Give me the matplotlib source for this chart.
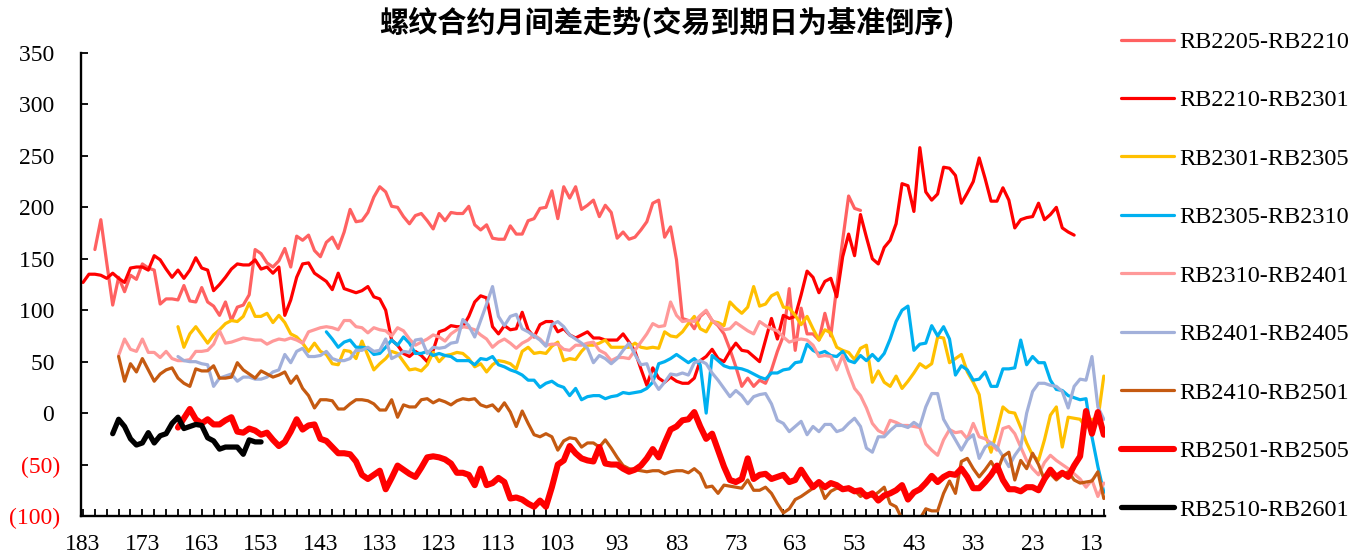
import matplotlib
matplotlib.use("Agg")
import matplotlib.pyplot as plt
import numpy as np

plt.rcParams['font.family'] = ['Liberation Serif', 'DejaVu Serif']

# Spread values by trading days left to expiry (first value = start day, one per day, counting down)
labels = ["RB2205-RB2210", "RB2210-RB2301", "RB2301-RB2305", "RB2305-RB2310",
          "RB2310-RB2401", "RB2401-RB2405", "RB2410-RB2501", "RB2501-RB2505",
          "RB2510-RB2601"]
start_days = [181, 183, 167, 142, 177, 167, 177, 167, 178]

rb2205_2210 = [
    159, 188, 146, 105, 132, 118, 134, 130, 145, 141,
    139, 106, 111, 111, 110, 124, 109, 108, 122, 108,
    104, 95, 108, 90, 103, 105, 115, 159, 155, 146,
    142, 148, 160, 142, 172, 168, 173, 158, 152, 166,
    171, 160, 176, 198, 186, 187, 195, 210, 220, 215,
    201, 200, 191, 184, 192, 194, 187, 179, 194, 187,
    195, 194, 194, 201, 183, 178, 183, 170, 169, 169,
    182, 174, 174, 187, 189, 199, 200, 216, 189, 220,
    209, 220, 198, 202, 207, 191, 202, 195, 170, 176,
    169, 171, 178, 186, 204, 207, 171, 181, 149, 92,
    90, 82, 94, 99, 90, 85, 77, 62, 45, 26,
    34, 26, 32, 29, 42, 60, 75, 121, 61, 102,
    77, 77, 71, 97, 75, 123, 168, 211, 199, 197]
rb2210_2301 = [
    127, 135, 135, 134, 131, 136, 131, 127, 141, 142,
    142, 139, 153, 149, 140, 132, 139, 131, 139, 151,
    141, 139, 119, 125, 132, 140, 145, 144, 144, 149,
    140, 142, 136, 142, 95, 110, 132, 145, 146, 136,
    132, 128, 120, 136, 121, 119, 117, 119, 123, 113,
    111, 100, 71, 66, 58, 55, 60, 56, 50, 61,
    79, 81, 85, 84, 84, 94, 108, 114, 112, 84,
    77, 85, 81, 82, 98, 81, 74, 86, 89, 89,
    79, 82, 76, 73, 76, 79, 73, 73, 71, 71,
    71, 77, 69, 60, 43, 27, 44, 34, 30, 35,
    31, 29, 29, 34, 51, 55, 62, 53, 50, 60,
    68, 61, 60, 55, 50, 71, 92, 72, 95, 92,
    94, 115, 138, 132, 117, 128, 131, 113, 152, 174,
    153, 193, 171, 150, 145, 161, 168, 184, 223, 221,
    196, 258, 215, 207, 213, 239, 238, 231, 204, 214,
    225, 248, 228, 206, 206, 219, 207, 180, 188, 190,
    191, 204, 188, 193, 200, 180, 176, 173]
rb2301_2305 = [
    84, 64, 77, 84, 76, 68, 76, 81, 87, 90,
    89, 94, 107, 94, 94, 97, 88, 95, 88, 77,
    74, 68, 60, 68, 60, 57, 48, 47, 61, 60,
    53, 70, 56, 42, 48, 53, 60, 58, 50, 42,
    43, 41, 47, 59, 50, 56, 57, 59, 58, 53,
    45, 48, 40, 47, 51, 50, 48, 43, 60, 64,
    58, 59, 58, 65, 69, 51, 53, 52, 60, 66,
    66, 68, 71, 64, 64, 64, 64, 68, 64, 63,
    64, 63, 79, 75, 74, 79, 87, 94, 82, 79,
    89, 88, 85, 108, 102, 97, 103, 123, 104, 106,
    114, 117, 103, 102, 95, 86, 94, 82, 71, 81,
    78, 64, 61, 59, 52, 63, 66, 30, 41, 30,
    26, 36, 24, 31, 39, 48, 44, 48, 74, 73,
    49, 53, 57, 40, 30, 18, -20, -38, -17, 6,
    1, 0, -14, -29, -41, -46, -26, -2, 6, -33,
    -4, -5, -6, -14, -6, -6, 36]
rb2305_2310 = [
    79, 72, 64, 69, 71, 64, 64, 63, 57, 58,
    64, 71, 66, 74, 68, 58, 58, 60, 56, 58,
    56, 55, 51, 51, 51, 47, 53, 52, 55, 47,
    45, 42, 40, 37, 32, 32, 25, 29, 31, 27,
    25, 17, 24, 13, 16, 17, 17, 14, 16, 17,
    20, 19, 20, 21, 24, 30, 48, 50, 53, 57,
    53, 49, 53, 47, 0, 56, 51, 46, 44, 44,
    43, 41, 38, 35, 33, 39, 39, 42, 43, 49,
    50, 67, 61, 58, 60, 56, 55, 60, 51, 49,
    56, 51, 57, 51, 58, 72, 89, 100, 104, 61,
    67, 68, 85, 75, 84, 72, 37, 46, 42, 32,
    33, 40, 26, 26, 43, 43, 44, 71, 47, 55,
    49, 49, 32, 23, 22, 17, 15, 13, 14, -23,
    -52, -77]
rb2310_2401 = [
    56, 72, 62, 60, 72, 59, 59, 54, 60, 53,
    51, 51, 52, 60, 60, 61, 67, 80, 68, 69,
    71, 73, 72, 71, 71, 67, 70, 72, 71, 73,
    71, 68, 79, 81, 83, 84, 83, 81, 90, 90,
    84, 83, 78, 83, 81, 80, 75, 83, 80, 72,
    66, 69, 72, 76, 74, 70, 77, 81, 84, 83,
    81, 76, 72, 64, 69, 72, 68, 63, 68, 71,
    76, 72, 66, 67, 67, 62, 61, 66, 66, 68,
    69, 61, 58, 51, 54, 54, 53, 61, 69, 77,
    87, 84, 85, 108, 95, 89, 90, 89, 95, 100,
    90, 86, 81, 82, 88, 84, 80, 77, 89, 85,
    82, 80, 74, 69, 71, 72, 71, 66, 55, 56,
    55, 42, 56, 39, 24, 17, 5, -10, -17, -20,
    -7, -9, -12, -12, -13, -14, -30, -36, -41, -26,
    -16, -19, -18, -25, -10, -23, -25, -29, -36, -15,
    -13, -20, -33, -46, -54, -60, -48, -41, -46, -50,
    -54, -59, -64, -72, -65, -81, -68]
rb2401_2405 = [
    55, 51, 50, 50, 48, 47, 26, 34, 36, 38,
    31, 35, 35, 33, 33, 35, 40, 42, 57, 49,
    60, 63, 55, 55, 56, 60, 53, 51, 51, 53,
    61, 61, 64, 60, 61, 72, 53, 56, 60, 59,
    71, 72, 58, 64, 63, 64, 68, 69, 91, 85,
    74, 90, 106, 123, 94, 85, 94, 96, 82, 79,
    75, 71, 65, 86, 89, 84, 76, 72, 68, 63,
    49, 56, 53, 48, 53, 61, 68, 57, 47, 48,
    32, 23, 30, 38, 37, 39, 37, 49, 51, 48,
    39, 32, 24, 16, 22, 17, 9, 16, 18, 19,
    9, -7, -10, -18, -13, -8, -21, -13, -18, -11,
    -11, -18, -16, -10, -5, -13, -34, -38, -23, -23,
    -17, -12, -12, -14, -9, -13, 6, 19, 19, -6,
    -16, -26, -36, -26, -21, -44, -33, -29, -33, -42,
    -52, -41, -33, 0, 21, 29, 29, 27, 26, 21,
    5, 26, 33, 32, 55, 6, -6]
rb2410_2501 = [
    55, 31, 48, 40, 53, 42, 31, 38, 42, 44,
    34, 29, 26, 43, 41, 41, 46, 34, 34, 35,
    49, 42, 38, 34, 41, 38, 35, 37, 40, 29,
    36, 24, 17, 5, 13, 13, 12, 4, 4, 9,
    13, 13, 12, 9, 3, 3, 13, -4, 8, 6,
    6, 13, 14, 10, 13, 11, 8, 12, 14, 13,
    14, 8, 6, 8, 2, 10, 1, -13, 2, -10,
    -21, -23, -20, -23, -36, -27, -24, -25, -33, -29,
    -29, -33, -26, -34, -43, -51, -54, -55, -56, -57,
    -56, -56, -59, -57, -56, -56, -58, -54, -59, -72,
    -71, -78, -70, -71, -72, -73, -65, -75, -75, -72,
    -78, -88, -97, -93, -84, -81, -77, -73, -68, -83,
    -76, -73, -74, -72, -75, -81, -78, -81, -77, -72,
    -88, -91, -103, -110, -110, -103, -93, -95, -95, -78,
    -66, -78, -47, -44, -54, -62, -55, -47, -57, -42,
    -38, -65, -46, -54, -39, -50, -65, -59, -65, -60,
    -57, -65, -68, -67, -66, -57, -83]
rb2501_2505 = [
    -14, -5, 4, -6, -10, -6, -11, -11, -7, -4,
    -18, -19, -15, -17, -21, -19, -26, -32, -28, -18,
    -6, -16, -12, -11, -25, -27, -33, -39, -39, -40,
    -47, -60, -64, -60, -56, -74, -63, -51, -55, -59,
    -62, -53, -43, -42, -43, -45, -49, -58, -58, -60,
    -70, -54, -70, -68, -63, -67, -83, -82, -84, -88,
    -91, -85, -91, -72, -50, -46, -32, -39, -44, -46,
    -47, -33, -49, -50, -50, -54, -57, -55, -51, -44,
    -35, -43, -29, -16, -13, -7, -6, 1, -13, -25,
    -20, -36, -52, -65, -67, -64, -44, -64, -60, -59,
    -64, -62, -60, -67, -65, -55, -64, -72, -67, -72,
    -68, -70, -74, -73, -76, -75, -81, -78, -85, -80,
    -78, -75, -70, -84, -77, -74, -68, -61, -67, -62,
    -59, -60, -54, -62, -73, -73, -67, -60, -51, -65,
    -74, -74, -76, -72, -72, -75, -64, -55, -62, -58,
    -62, -51, -42, 2, -20, 1, -21]
rb2510_2601 = [
    -20, -6, -13, -25, -31, -29, -19, -29, -22, -20,
    -10, -4, -15, -13, -11, -12, -24, -27, -35, -33,
    -33, -33, -40, -26, -28, -28]

all_values = [rb2205_2210, rb2210_2301, rb2301_2305, rb2305_2310, rb2310_2401,
              rb2401_2405, rb2410_2501, rb2501_2505, rb2510_2601]

x_ticks = list(range(183, 10, -10))
y_ticks = list(range(-100, 351, 50))

# Styling
colors = ["#FF6161", "#FF0000", "#FFC000", "#00B0F0", "#FF9999",
          "#A2B0DA", "#C55A11", "#FF0000", "#000000"]
widths = [2.3, 2.3, 2.3, 2.3, 2.3, 2.3, 2.3, 4.4, 3.8]

fig = plt.figure(figsize=(13.64, 5.56), dpi=100)
ax = fig.add_axes([81 / 1364, 40 / 556, 1024 / 1364, 463 / 556])

for label, start, vals, c, lw in zip(labels, start_days, all_values, colors, widths):
    days = np.arange(start, start - len(vals), -1)
    ax.plot(days, vals, color=c, lw=lw, label=label,
            solid_joinstyle="round", solid_capstyle="round")

ax.set_xlim(183.34, 10.8)
ax.set_ylim(-100, 350)

for side in ["top", "right"]:
    ax.spines[side].set_visible(False)
for side in ["left", "bottom"]:
    ax.spines[side].set_linewidth(1.7)

ax.set_xticks(x_ticks)
ax.set_xticks(list(range(183, 10, -2)), minor=True)
ax.tick_params(axis="x", which="both", direction="in", length=5, width=1.3)
ax.tick_params(axis="x", which="major", labelsize=17, pad=13)

y_labels = [f"{v} " if v >= 0 else f"({abs(v)})" for v in y_ticks]
ax.set_yticks(y_ticks, labels=y_labels)
ax.tick_params(axis="y", direction="in", length=5, width=1.3, labelsize=17, pad=15)
for v, t in zip(y_ticks, ax.get_yticklabels()):
    if v < 0:
        t.set_color("#FF0000")

fig.text(666.5 / 1364, 1 - 22 / 556, "螺纹合约月间差走势(交易到期日为基准倒序)",
         fontsize=21, fontweight="bold", ha="center", va="center",
         family=["Noto Sans CJK SC", "DejaVu Sans"])

fig.legend(loc="upper left", bbox_to_anchor=(1121 / 1364, 1 - 31 / 556),
           frameon=False, fontsize=17.5, handlelength=2.2, handletextpad=0.2,
           labelspacing=1.5, borderpad=0, borderaxespad=0)

fig.savefig("out.png", dpi=100)
